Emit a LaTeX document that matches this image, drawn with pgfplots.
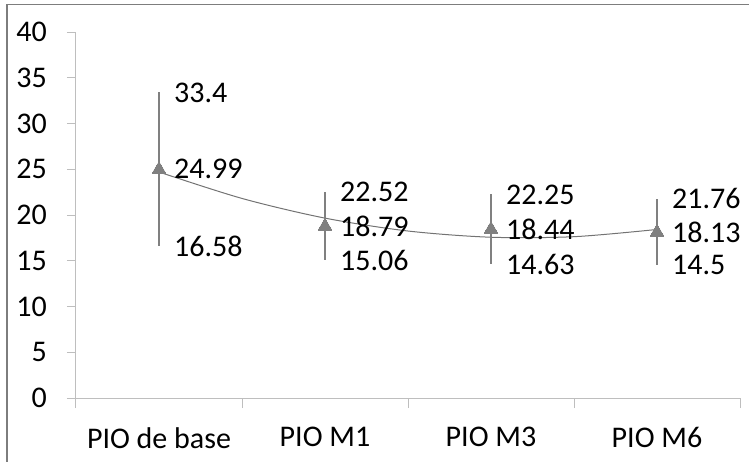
\documentclass[border=0pt]{standalone}
\usepackage{pgfplots}
\pgfplotsset{compat=1.18}
\usepackage{fontspec}
\setmainfont{Carlito}

\definecolor{serie}{RGB}{128,128,128}
\definecolor{linegray}{RGB}{115,115,115}
\definecolor{axisgray}{RGB}{190,190,190}
\definecolor{framegray}{RGB}{125,125,125}

\begin{document}
\fontsize{30}{34}\selectfont
\begin{tikzpicture}
\begin{axis}[
    at={(0pt,0pt)}, anchor=south west,
    scale only axis,
    width=664pt, height=366pt,
    xmin=-0.5, xmax=3.5,
    ymin=0, ymax=40,
    axis lines*=left,
    axis line style={axisgray, line width=1pt},
    ytick={0,5,...,40},
    xtick={0,1,2,3},
    xticklabels={PIO de base, PIO M1, PIO M3, PIO M6},
    minor xtick={-0.5,0.5,1.5,2.5,3.5},
    tick align=outside,
    major tick length=9pt,
    minor tick length=10pt,
    tick style={axisgray, line width=1pt},
    major x tick style={draw=none},
    yticklabel style={xshift=-10pt},
    xticklabel style={yshift=-10pt},
    /pgf/number format/assume math mode=true,
    every node near coord/.append style={anchor=west, xshift=15pt, inner sep=0pt, text=black},
    clip=false,
]

% trend curve
\addplot[linegray, line width=1pt, smooth, mark=none]
    coordinates {
    (0,24.70)(0.5,21.81)(1,19.66)(1.5,18.25)(2,17.57)(2.5,17.63)(3,18.42)
    };

% means with min / max bars
\addplot[
    only marks,
    mark=triangle*, mark size=8pt,
    mark options={draw=serie, fill=serie, line width=0pt},
    error bars/.cd, y dir=both, y explicit,
    error mark=none,
    error bar style={serie, line width=1.3pt},
    ]
    coordinates {
    (0,24.99) +- (0,8.41)
    (1,18.79) +- (0,3.73)
    (2,18.44) +- (0,3.81)
    (3,18.13) +- (0,3.63)
    };

% data labels
\addplot[draw=none, mark=none, point meta=y, nodes near coords]
    coordinates {(0,33.4)(1,22.52)(2,22.25)(3,21.76)};
\addplot[draw=none, mark=none, point meta=y, nodes near coords]
    coordinates {(0,24.99)(1,18.79)(2,18.44)(3,18.13)};
\addplot[draw=none, mark=none, point meta=y, nodes near coords]
    coordinates {(0,16.58)(1,15.06)(2,14.63)(3,14.5)};

\end{axis}

\draw[framegray, line width=1.5pt] (-69pt,-300pt) rectangle (900pt,393.5pt);
\pgfresetboundingbox
\useasboundingbox (-76pt,-63pt) rectangle (673pt,398pt);
\end{tikzpicture}
\end{document}
